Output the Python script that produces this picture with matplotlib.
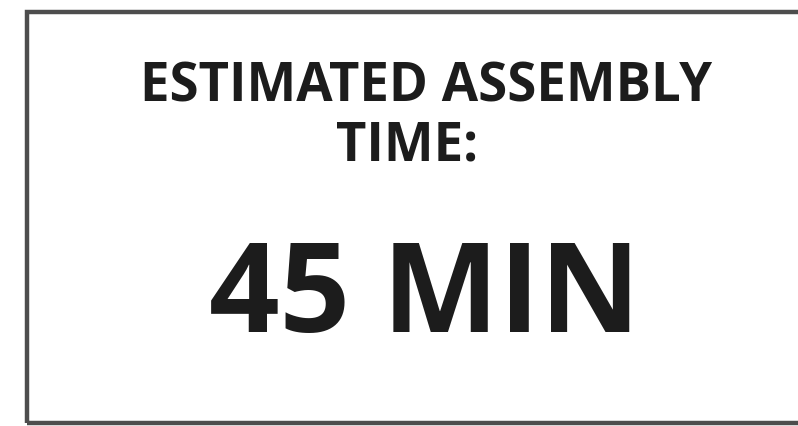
import matplotlib.pyplot as plt
from matplotlib.patches import Rectangle

# text content of the label
header_lines = ["ESTIMATED ASSEMBLY", "TIME:"]
time_value = "45 MIN"

fig = plt.figure(figsize=(7.98, 4.27), dpi=100)
fig.patch.set_facecolor('white')

# box border (right side runs off the image)
box = Rectangle((27 / 798, 3 / 427), 1.0, 411 / 427, transform=fig.transFigure,
                fill=False, edgecolor='#4d4d4d', linewidth=3.2)
fig.patches.append(box)

font = 'Open Sans'
fig.text(426 / 798, 1 - 102 / 427, header_lines[0], ha='center', va='baseline',
         fontsize=38, fontweight='bold', family=font, color='#1c1c1c')
fig.text(407 / 798, 1 - 161 / 427, header_lines[1], ha='center', va='baseline',
         fontsize=38, fontweight='bold', family=font, color='#1c1c1c')
fig.text(425 / 798, 1 - 332 / 427, time_value, ha='center', va='baseline',
         fontsize=89, fontweight='bold', family=font, color='#1c1c1c')

plt.savefig('out.png', dpi=100)
